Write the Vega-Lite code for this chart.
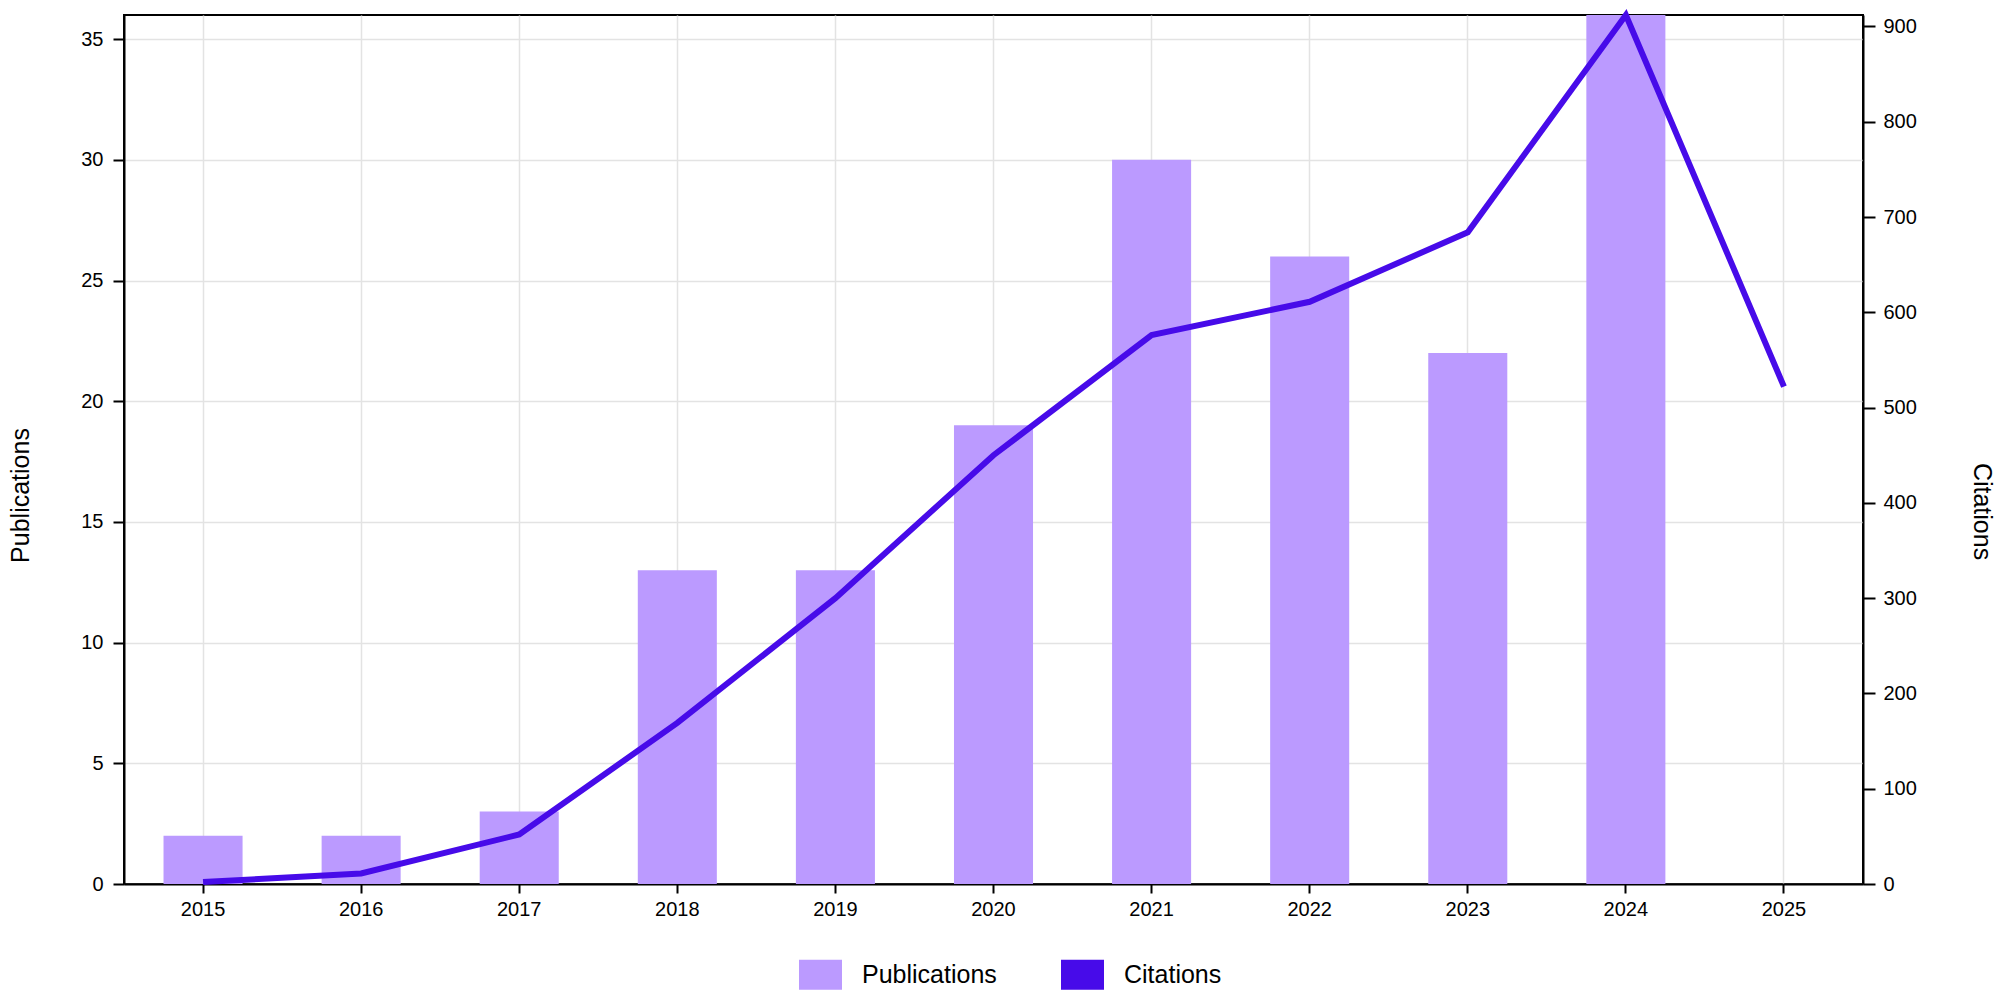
{
  "$schema": "https://vega.github.io/schema/vega-lite/v6.json",
  "width": 1739,
  "height": 869,
  "autosize": {"type": "none"},
  "padding": {"left": 124, "top": 15, "right": 137, "bottom": 109},
  "background": "white",
  "config": {
    "font": "Liberation Sans",
    "view": {"stroke": "black", "strokeWidth": 2},
    "axis": {
      "domainColor": "black",
      "domainWidth": 2,
      "tickColor": "black",
      "tickWidth": 2,
      "labelColor": "black",
      "titleColor": "black",
      "labelFontSize": 20,
      "titleFontSize": 25,
      "titleFontWeight": "normal",
      "gridColor": "#e3e3e3",
      "gridWidth": 1.5
    }
  },
  "data": {
    "values": [
      {"year": "2015", "publications": 2, "citations": 2},
      {"year": "2016", "publications": 2, "citations": 11},
      {"year": "2017", "publications": 3, "citations": 52},
      {"year": "2018", "publications": 13, "citations": 169},
      {"year": "2019", "publications": 13, "citations": 300},
      {"year": "2020", "publications": 19, "citations": 450},
      {"year": "2021", "publications": 30, "citations": 576},
      {"year": "2022", "publications": 26, "citations": 611},
      {"year": "2023", "publications": 22, "citations": 684},
      {"year": "2024", "publications": 36, "citations": 912},
      {"year": "2025", "publications": 0, "citations": 522}
    ]
  },
  "encoding": {
    "x": {
      "field": "year",
      "type": "ordinal",
      "scale": {"paddingInner": 0.5, "paddingOuter": 0.25},
      "axis": {
        "title": null,
        "labelAngle": 0,
        "tickSize": 9,
        "labelPadding": 6,
        "grid": true,
        "bandPosition": 0.5
      }
    }
  },
  "layer": [
    {
      "mark": {"type": "bar"},
      "encoding": {
        "y": {
          "field": "publications",
          "type": "quantitative",
          "scale": {"domain": [0, 36], "nice": false},
          "axis": {
            "title": "Publications",
            "values": [0, 5, 10, 15, 20, 25, 30, 35],
            "tickSize": 11,
            "labelPadding": 10,
            "grid": true,
            "titleX": -104,
            "titleY": 480,
            "titleAngle": 270,
            "titleAlign": "center",
            "titleBaseline": "middle"
          }
        },
        "color": {
          "datum": "Publications",
          "scale": {"domain": ["Publications", "Citations"], "range": ["#BB9AFF", "#470BE9"]},
          "legend": {
            "orient": "none",
            "legendX": 675,
            "legendY": 938,
            "direction": "horizontal",
            "title": null,
            "symbolType": "M-1,-0.7H1V0.7H-1Z",
            "symbolSize": 1849,
            "symbolStrokeWidth": 0,
            "symbolOpacity": 1,
            "labelFontSize": 25,
            "labelColor": "black",
            "labelOffset": 20,
            "columnPadding": 64,
            "padding": 0
          }
        }
      }
    },
    {
      "mark": {"type": "line", "color": "#470BE9", "strokeWidth": 6},
      "encoding": {
        "y": {
          "field": "citations",
          "type": "quantitative",
          "scale": {"domain": [0, 912], "nice": false},
          "axis": {
            "title": "Citations",
            "orient": "right",
            "values": [0, 100, 200, 300, 400, 500, 600, 700, 800, 900],
            "tickSize": 12,
            "labelPadding": 8,
            "grid": false,
            "titleX": 118,
            "titleY": 496,
            "titleAngle": 90,
            "titleAlign": "center",
            "titleBaseline": "middle"
          }
        }
      }
    }
  ],
  "resolve": {"scale": {"y": "independent"}}
}
